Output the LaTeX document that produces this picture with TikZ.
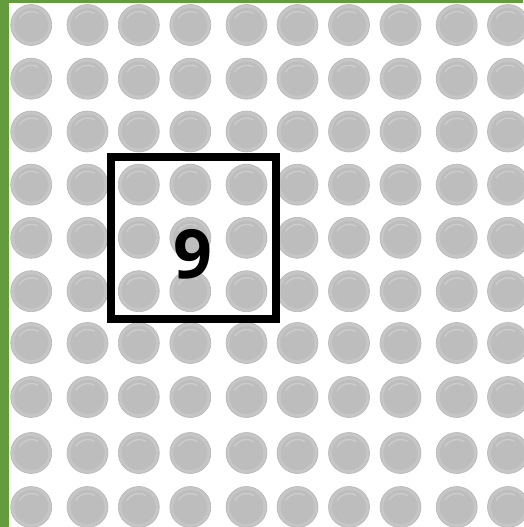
\documentclass[tikz,border=0pt]{standalone}
\usepackage{fontspec}
\setmainfont{Open Sans}
\definecolor{leaf}{RGB}{100,155,60}
\definecolor{dotout}{RGB}{198,198,198}
\definecolor{dotin}{RGB}{189,189,189}
\definecolor{dotrim}{RGB}{182,182,182}
\definecolor{dothi}{RGB}{204,204,204}
\begin{document}
\begin{tikzpicture}[x=1pt,y=-1pt,
  dot/.style={circle,minimum size=41pt,inner sep=0pt,fill=dotout,draw=dotrim,line width=0.6pt},
  frame/.style={draw=black,line width=8pt,inner sep=0pt,minimum width=165pt,minimum height=161.5pt},
  digit/.style={font=\fontsize{68}{68}\selectfont\bfseries,inner sep=0pt,text=black}]
\useasboundingbox (0,0) rectangle (523,527);
\fill[white] (0,0) rectangle (523,527);
\fill[leaf] (0,0) rectangle (9,527);
\fill[leaf] (0,0) rectangle (523,3);
\foreach \c [count=\i] in {31.2,87.5,138.8,190.3,246.5,297.5,349,400.5,456.7,508}
  \foreach \r [count=\j] in {25,78.7,131.5,184.7,237.8,291.2,343,397,453,507}
  {
    \node[dot] (d\i-\j) at (\c,\r) {};
    \fill[dotin] (d\i-\j.center) circle (17pt);
    \draw[dothi,line width=1.4pt,line cap=round] (d\i-\j.center) ++(-150:13.5) arc (-150:-60:13.5);
  }
\node[frame] (box) at (193.5,238.2) {};
\node[digit] (nine) at (193.3,254) {9};
\end{tikzpicture}
\end{document}
